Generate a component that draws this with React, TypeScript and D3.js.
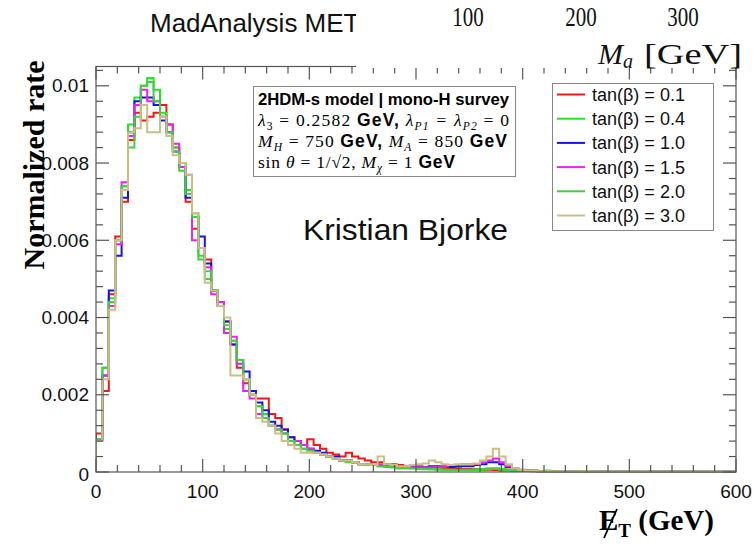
import React from "react";
import * as d3 from "d3";

// MET histograms, 6 GeV bins from 0 to 600 GeV, values in units of 1e-4 (normalized rate)
const binEdgesGeV = [0, 600];
const binWidth = 6;

const seriesLabels = ["tan(β) = 0.1", "tan(β) = 0.4", "tan(β) = 1.0", "tan(β) = 1.5", "tan(β) = 2.0", "tan(β) = 3.0"];
const seriesColors = ["#f01818", "#22e622", "#1414e6", "#ee22ee", "#44cc44", "#cbbf87"];

const tail = [0.3, 0.2, 0.2, 0.1, 0.2, 0.2, 0.1, 0.2, 0.1, 0.1, 0.2, 0.1, 0.1, 0.1, 0.2, 0.1, 0.1, 0.1, 0.1, 0.1, 0.1, 0.1, 0.1, 0.2, 0.1, 0.1, 0.1, 0.1, 0.1, 0.1];

const red01 = [
  10, 21, 46, 61, 70, 86, 93, 91, 92, 93, 95, 90, 84, 79, 70, 63, 58, 55, 47, 43,
  39, 33, 27, 23, 20, 19, 19, 15, 14, 11, 9, 8, 7, 8.5, 7, 6, 5, 4.5, 4, 5,
  4, 3.5, 3, 2.5, 2.5, 2, 2, 1.8, 1.5, 1.5, 1.5, 1.3, 1.2, 1.2, 1, 1, 1, 0.8, 0.8, 0.8,
  0.5, 0.6, 0.5, 0.4, 0.4, 0.3, 0.3, 0.3, 0.2, 0.2,
  0.2, 0.2, 0.1, 0.1, 0.2, 0.1, 0.1, 0.1, 0.1, 0.1, 0.1, 0.1, 0.1, 0.1, 0.1, 0.1, 0.1, 0.1, 0.1, 0.1,
  0.1, 0.1, 0.1, 0.1, 0.1, 0.1, 0.1, 0.1, 0.1, 0.1,
];
const green04 = [
  8.5, 27, 45, 60, 74, 90, 97, 100, 102, 99, 93, 88, 84, 80, 73, 67, 56, 50, 47, 43,
  37, 34, 28, 24, 20, 17, 15, 12, 11, 10, 8, 7, 6, 6, 5, 4.5, 4, 3.5, 3, 3,
  2.5, 2, 2, 1.8, 1.5, 1.5, 1.2, 1, 1, 1, 0.8, 0.8, 0.7, 0.7, 0.6, 0.6, 0.5, 0.5, 0.5, 0.5,
  0.6, 0.8, 0.8, 0.6, 0.5, 0.5, 0.4, 0.3, 0.3, 0.2,
  ...tail,
];
const blue10 = [
  8.2, 25, 47, 56, 71, 88, 96, 97, 97, 95, 91, 88, 83, 79, 71, 66, 61, 54, 47, 44,
  39, 33, 29, 26, 21, 18, 16, 13, 12, 11, 9, 8, 7, 6, 5.5, 5, 4, 4, 3, 3,
  2.5, 2, 2, 1.8, 1.8, 1.5, 1.3, 1.2, 1.2, 1.2, 1.2, 1.3, 1.5, 1.5, 1.5, 1.3, 1.5, 1.5, 1.5, 1.8,
  2, 2.5, 2.5, 2, 1.2, 0.8, 0.5, 0.4, 0.3, 0.2,
  0.2, 0.1, 0.2, 0.1, 0.1, 0.2, 0.1, 0.1, 0.1, 0.1, 0.1, 0.2, 0.1, 0.1, 0.1, 0.1, 0.1, 0.1, 0.1, 0.1,
  0.1, 0.1, 0.1, 0.2, 0.1, 0.1, 0.1, 0.1, 0.1, 0.1,
];
const magenta15 = [
  8.5, 25, 43, 59, 75, 87, 95, 99, 96, 96, 92, 90, 85, 79, 77, 60, 58, 53, 46, 44,
  36, 35, 28, 21, 19, 15, 14, 12, 11, 10, 8, 8, 7, 6, 5, 4.5, 4, 3.5, 3, 3,
  2.5, 2, 2, 1.8, 2, 1.5, 1.5, 1.3, 1.2, 1.2, 1.2, 1.2, 1.2, 1.3, 1.5, 1.8, 1.8, 2, 2, 2,
  2.5, 3, 3.5, 2.5, 1.5, 1, 0.6, 0.4, 0.3, 0.2,
  0.2, 0.2, 0.1, 0.2, 0.1, 0.1, 0.2, 0.1, 0.1, 0.1, 0.1, 0.1, 0.1, 0.2, 0.1, 0.1, 0.1, 0.1, 0.1, 0.1,
  0.1, 0.1, 0.1, 0.1, 0.1, 0.1, 0.1, 0.1, 0.1, 0.1,
];
const green20 = [
  8.5, 27, 44, 60, 74, 84, 92, 100, 101, 96, 92, 88, 83, 78, 72, 66, 55, 52, 47, 43,
  38, 34, 29, 24, 20, 17, 14, 12, 11, 10, 8, 7, 6, 5.5, 5, 4.5, 4, 3.5, 3, 2.5,
  2.5, 2, 1.8, 1.8, 1.5, 1.3, 1.2, 1, 1, 0.9, 0.8, 0.7, 0.7, 0.6, 0.6, 0.5, 0.5, 0.6, 0.6, 0.7,
  0.8, 1, 1, 0.8, 0.6, 0.5, 0.4, 0.3, 0.3, 0.2,
  ...tail,
];
const tan30 = [
  8, 24, 42, 60, 73, 88, 89, 95, 88, 88, 92, 87, 82, 80, 77, 67, 58, 49, 47, 43,
  40, 25, 25, 24, 20, 14, 13, 12, 10, 8, 7, 6, 5, 5, 5, 4.5, 4, 3.5, 3, 3,
  2.5, 2, 2, 1.8, 4, 2, 1.8, 1.5, 1.5, 1.8, 2, 2.2, 3, 2.5, 2, 1.8, 2, 2, 2, 2.2,
  3, 4, 6, 4, 2, 1, 0.6, 0.4, 0.3, 0.2,
  0.2, 0.1, 0.2, 0.1, 0.1, 0.1, 0.2, 0.1, 0.1, 0.1, 0.1, 0.1, 0.1, 0.1, 0.1, 0.2, 0.1, 0.1, 0.1, 0.1,
  0.1, 0.1, 0.1, 0.1, 0.1, 0.1, 0.2, 0.1, 0.1, 0.1,
];
const seriesValues = [red01, green04, blue10, magenta15, green20, tan30];

const xTicks = [0, 100, 200, 300, 400, 500, 600];
const yTicks = [0, 0.002, 0.004, 0.006, 0.008, 0.01];
const yTickLabels = ["0", "0.002", "0.004", "0.006", "0.008", "0.01"];
const overlayTicks = ["100", "200", "300"];

const W = 755;
const H = 546;
const SANS = "'Liberation Sans', Arial, Helvetica, sans-serif";
const SERIF = "'Liberation Serif', 'Times New Roman', serif";

const x = d3.scaleLinear().domain(binEdgesGeV).range([96, 736]);
const y = d3.scaleLinear().domain([0, 0.0105]).range([472, 66.5]);
const PL = 96, PR = 736, PT = 66.5, PB = 472;

function histPath(vals: number[]): string {
  const pts: [number, number][] = [[x(0), y(0)]];
  vals.forEach((v, i) => {
    pts.push([x(i * binWidth), y(v * 1e-4)]);
    pts.push([x((i + 1) * binWidth), y(v * 1e-4)]);
  });
  return d3.line()(pts) || "";
}

type Seg = { t: string; f?: "sans" | "sansb" | "serif" | "it"; sub?: boolean };

function Rich({ xPos, yPos, segs, size, len }: { xPos: number; yPos: number; segs: Seg[]; size: number; len?: number }) {
  let inSub = false;
  return (
    <text x={xPos} y={yPos} fontSize={size} fill="#000" textLength={len} lengthAdjust="spacing">
      {segs.map((s, i) => {
        let dy = 0;
        if (s.sub && !inSub) { dy = size * 0.2; inSub = true; }
        else if (!s.sub && inSub) { dy = -size * 0.2; inSub = false; }
        const fam = s.f === "sans" || s.f === "sansb" ? SANS : SERIF;
        return (
          <tspan key={i} dy={dy || undefined} fontFamily={fam}
            fontWeight={s.f === "sansb" ? "bold" : "normal"}
            fontStyle={s.f === "it" ? "italic" : "normal"}
            fontSize={s.sub ? size * 0.66 : size}>{s.t}</tspan>
        );
      })}
    </text>
  );
}

export default function App() {
  const minorX = d3.range(0, 601, 20);
  const minorY = d3.range(0, 0.01051, 0.0004);
  const axisColor = "#555";
  const legendX = 552, legendY = 83, legendW = 161, legendH = 147;
  return (
    <svg width={W} height={H} style={{ position: "absolute", left: 0, top: 0, background: "#fff" }}>
      <rect x={0} y={0} width={W} height={H} fill="#fff" />
      <defs>
        <clipPath id="plotClip"><rect x={PL} y={PT} width={PR - PL} height={PB - PT + 1} /></clipPath>
        <clipPath id="titleClip"><rect x={0} y={0} width={356} height={60} /></clipPath>
      </defs>
      {/* histograms */}
      <g clipPath="url(#plotClip)">
        {seriesValues.map((vals, i) => (
          <path key={i} d={histPath(vals)} fill="none" stroke={seriesColors[i]} strokeWidth={2} />
        ))}
      </g>
      {/* frame */}
      <rect x={PL} y={PT} width={PR - PL} height={PB - PT} fill="none" stroke={axisColor} strokeWidth={1.2} />
      {minorX.map((v) => {
        const major = v % 100 === 0;
        const len = major ? 13 : 7;
        return (
          <g key={"xt" + v}>
            <line x1={x(v)} x2={x(v)} y1={PB} y2={PB - len} stroke={axisColor} strokeWidth={1.2} />
            <line x1={x(v)} x2={x(v)} y1={PT} y2={PT + len} stroke={axisColor} strokeWidth={1.2} />
          </g>
        );
      })}
      {minorY.map((v, i) => {
        const major = i % 5 === 0;
        const len = major ? 13 : 7;
        return (
          <g key={"yt" + i}>
            <line x1={PL} x2={PL + len} y1={y(v)} y2={y(v)} stroke={axisColor} strokeWidth={1.2} />
            <line x1={PR} x2={PR - len} y1={y(v)} y2={y(v)} stroke={axisColor} strokeWidth={1.2} />
          </g>
        );
      })}
      {/* tick labels */}
      {xTicks.map((v) => (
        <text key={"xl" + v} x={x(v)} y={498} textAnchor="middle" fontFamily={SANS} fontSize={19} fill="#111">{v}</text>
      ))}
      {yTicks.map((v, i) => (
        <text key={"yl" + i} x={89} y={y(v) + (i === 0 ? 9 : 6.5)} textAnchor="end" fontFamily={SANS} fontSize={19} fill="#111">{yTickLabels[i]}</text>
      ))}
      {/* axis titles */}
      <text transform="translate(44,165) rotate(-90)" textAnchor="middle" fontFamily={SERIF} fontWeight="bold" fontSize={30} fill="#000">Normalized rate</text>
      <g>
        <text x={599} y={530} fontFamily={SERIF} fontWeight="bold" fontSize={29} fill="#000">
          <tspan>E</tspan>
          <tspan dy={7} fontSize={19}>T</tspan>
          <tspan dy={-7}> (GeV)</tspan>
        </text>
        <line x1={604} y1={538} x2={617} y2={509} stroke="#000" strokeWidth={1.8} />
      </g>
      {/* overlay from another figure, top right */}
      <rect x={356} y={0} width={W - 356} height={PT + 1.5} fill="#fff" />
      <text x={150} y={32} fontFamily={SANS} fontSize={26} fill="#111" clipPath="url(#titleClip)">MadAnalysis MET</text>
      {overlayTicks.map((t, i) => (
        <text key={"ot" + i} transform={`translate(${[468, 581, 683][i]},26) scale(1,1.3)`} textAnchor="middle" fontFamily={SERIF} fontSize={21} fill="#111">{t}</text>
      ))}
      <text x={598} y={64} fontFamily={SERIF} fontSize={30} fill="#111">
        <tspan fontStyle="italic">M</tspan>
        <tspan dy={4} fontSize={20} fontStyle="italic">a</tspan>
      </text>
      <text x={644} y={64} fontFamily={SERIF} fontSize={30} fill="#111" textLength={98} lengthAdjust="spacingAndGlyphs">[GeV]</text>
      {/* annotation box */}
      <rect x={253.5} y={86.5} width={262} height={90} fill="#fff" stroke="#888" strokeWidth={1} />
      <text x={258} y={105} fontFamily={SANS} fontWeight="bold" fontSize={16.5} fill="#000" textLength={251} lengthAdjust="spacingAndGlyphs">2HDM-s model | mono-H survey</text>
      <Rich xPos={258} yPos={126} size={17.5} len={251} segs={[
        { t: "λ", f: "it" }, { t: "3", f: "serif", sub: true }, { t: " = 0.2582 ", f: "serif" }, { t: "GeV,", f: "sansb" },
        { t: " λ", f: "it" }, { t: "P1", f: "it", sub: true }, { t: " = λ", f: "it" }, { t: "P2", f: "it", sub: true }, { t: " = 0", f: "serif" },
      ]} />
      <Rich xPos={258} yPos={147} size={17.5} len={249} segs={[
        { t: "M", f: "it" }, { t: "H", f: "it", sub: true }, { t: " = 750 ", f: "serif" }, { t: "GeV,", f: "sansb" },
        { t: " M", f: "it" }, { t: "A", f: "it", sub: true }, { t: " = 850 ", f: "serif" }, { t: "GeV", f: "sansb" },
      ]} />
      <Rich xPos={258} yPos={168} size={17.5} len={197} segs={[
        { t: "sin ", f: "serif" }, { t: "θ", f: "it" }, { t: " = 1/√2, ", f: "serif" },
        { t: "M", f: "it" }, { t: "χ", f: "it", sub: true }, { t: " = 1 ", f: "serif" }, { t: "GeV", f: "sansb" },
      ]} />
      {/* name */}
      <text x={303} y={240} fontFamily={SANS} fontSize={30} fill="#111" textLength={205} lengthAdjust="spacingAndGlyphs">Kristian Bjorke</text>
      {/* legend */}
      <rect x={legendX + 0.5} y={legendY + 0.5} width={legendW} height={legendH} fill="#fff" stroke="#888" strokeWidth={1} />
      {seriesLabels.map((lab, i) => {
        const cy = 94.5 + i * 24.2;
        return (
          <g key={"lg" + i}>
            <line x1={557} x2={585} y1={cy} y2={cy} stroke={seriesColors[i]} strokeWidth={2} />
            <text x={592} y={cy + 6.5} fontFamily={SANS} fontSize={18} fill="#111">{lab}</text>
          </g>
        );
      })}
    </svg>
  );
}
